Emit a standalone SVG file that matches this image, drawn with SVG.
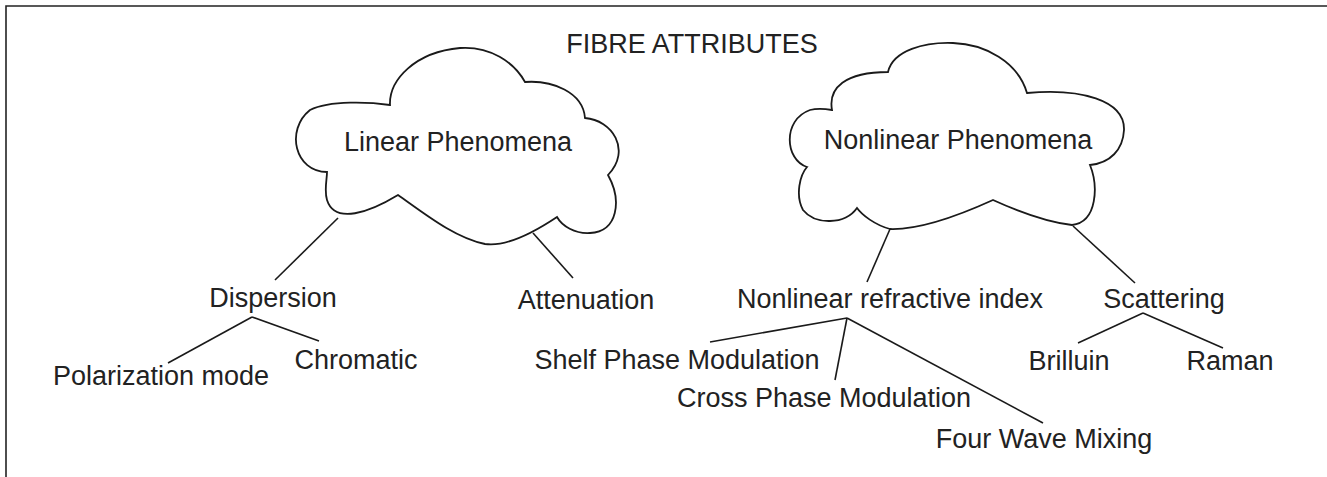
<svg xmlns="http://www.w3.org/2000/svg" width="1327" height="477" viewBox="0 0 1327 477">
<style>
.t{font-family:"Liberation Sans",Arial,sans-serif;font-size:27px;fill:#222;text-anchor:middle}
.c{fill:#fff;stroke:#1a1a1a;stroke-width:1.8;stroke-linejoin:miter}
.l{stroke:#1a1a1a;stroke-width:1.6;fill:none}
</style>
<rect width="1327" height="477" fill="#fff"/>
<path d="M6,477 V6 H1327" fill="none" stroke="#222" stroke-width="1.6"/>
<text class="t" x="692" y="53">FIBRE ATTRIBUTES</text>
<g id="linear">
<path class="c" d="M390,105 C389,80 415,52 460,48 C490,46 514,62 525,82 C552,80 583,92 585,118 C612,120 632,150 608,175 C622,200 618,232 590,233 C575,234 562,226 557,217 C530,235 505,247 485,244 C455,238 425,214 398,195 C370,212 335,225 327,200 C324,190 327,180 327,172 C295,172 285,130 310,110 C330,100 370,102 390,105 Z"/>
<text class="t" x="458" y="151">Linear Phenomena</text>
</g>
<g id="nonlinear">
<path class="c" d="M888,72 C893,50 925,42 953,43 C985,44 1018,62 1027,93 C1080,88 1125,100 1124,130 C1123,150 1110,163 1090,165 C1098,185 1098,222 1072,225 C1045,222 1015,210 993,200 C960,215 920,230 890,229 C875,225 862,215 857,208 C845,225 815,225 803,210 C795,195 800,175 807,167 C785,160 782,120 810,110 C818,108 826,109 832,110 C828,88 845,72 888,72 Z"/>
<text class="t" x="958" y="149">Nonlinear Phenomena</text>
</g>
<g id="dispersion"><text class="t" x="273" y="307">Dispersion</text></g>
<g id="attenuation"><text class="t" x="586" y="309">Attenuation</text></g>
<g id="nri"><text class="t" x="890" y="308">Nonlinear refractive index</text></g>
<g id="scattering"><text class="t" x="1164" y="308">Scattering</text></g>
<g id="polarization"><text class="t" x="161" y="385">Polarization mode</text></g>
<g id="chromatic"><text class="t" x="356" y="369">Chromatic</text></g>
<g id="spm"><text class="t" x="677" y="369">Shelf Phase Modulation</text></g>
<g id="xpm"><text class="t" x="824" y="407">Cross Phase Modulation</text></g>
<g id="fwm"><text class="t" x="1044" y="448">Four Wave Mixing</text></g>
<g id="brilluin"><text class="t" x="1069" y="370">Brilluin</text></g>
<g id="raman"><text class="t" x="1230" y="370">Raman</text></g>
<g id="connectors" class="l">
<line x1="338" y1="218" x2="275" y2="280"/>
<line x1="533" y1="233" x2="573" y2="278"/>
<line x1="252" y1="317" x2="168" y2="363"/>
<line x1="252" y1="317" x2="319" y2="341"/>
<line x1="890" y1="229" x2="867" y2="282"/>
<line x1="1073" y1="226" x2="1135" y2="283"/>
<line x1="847" y1="318" x2="710" y2="342"/>
<line x1="847" y1="318" x2="835" y2="380"/>
<line x1="847" y1="318" x2="1043" y2="423"/>
<line x1="1143" y1="313" x2="1078" y2="343"/>
<line x1="1143" y1="313" x2="1223" y2="348"/>
</g>
</svg>
